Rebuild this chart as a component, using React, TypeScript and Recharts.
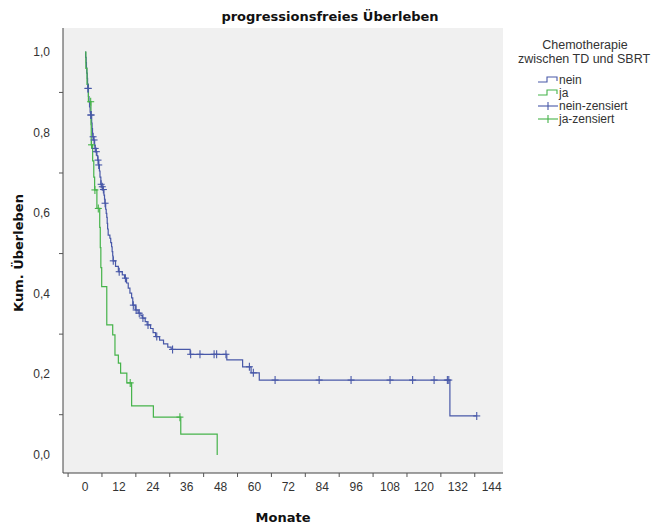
import React from "react";
import { ComposedChart, Line, Scatter, XAxis, YAxis, CartesianGrid } from "recharts";

const MONTH_TICKS = [0, 12, 24, 36, 48, 60, 72, 84, 96, 108, 120, 132, 144];
const SURV_TICKS = [0, 0.2, 0.4, 0.6, 0.8, 1.0];

// Kaplan-Meier steps [Monate, Überleben]
const NEIN_STEPS: [number, number][] = [
  [0, 1], [0.2, 0.987], [0.4, 0.974], [0.5, 0.961], [0.6, 0.948], [0.8, 0.935], [0.9, 0.922], [1.0, 0.91],
  [1.2, 0.89], [1.4, 0.877], [1.6, 0.864], [1.8, 0.851], [1.95, 0.844],
  [2.35, 0.824], [2.5, 0.81], [2.65, 0.797], [2.75, 0.79],
  [3.0, 0.782], [3.4, 0.768], [3.55, 0.761], [3.8, 0.753], [4.2, 0.743], [4.5, 0.732], [4.8, 0.72],
  [5.1, 0.705], [5.3, 0.69], [5.6, 0.672], [5.9, 0.666], [6.3, 0.659], [6.7, 0.645], [6.9, 0.635], [7.05, 0.625],
  [7.3, 0.61], [7.5, 0.6], [7.7, 0.59], [7.85, 0.575], [8.0, 0.561], [8.2, 0.546], [8.8, 0.538], [9.1, 0.527],
  [9.4, 0.517], [9.6, 0.505], [9.8, 0.494], [9.95, 0.482],
  [10.8, 0.468], [11.8, 0.455], [13.2, 0.447], [14.0, 0.439], [14.7, 0.427], [15.3, 0.414], [15.9, 0.402],
  [16.5, 0.39], [16.9, 0.372], [17.8, 0.36], [18.8, 0.352], [19.8, 0.346], [20.3, 0.34], [21.3, 0.331],
  [22.0, 0.323], [23.2, 0.314], [24.1, 0.304], [25.0, 0.294], [26.4, 0.285], [27.8, 0.276], [29.3, 0.268],
  [30.5, 0.262], [37.2, 0.25], [50.2, 0.236], [55.8, 0.219], [58.8, 0.204], [61.7, 0.186],
  [129.2, 0.097], [138.7, 0.097],
];
const NEIN_CENSORED = [
  1.06, 1.1, 2.0, 2.2, 2.85, 3.2, 3.6, 4.0, 4.6, 4.85, 5.7, 6.1, 6.5, 7.1, 10.0, 12.1, 14.3,
  17.1, 18.1, 19.2, 20.5, 22.3, 25.4, 31.0, 37.4, 40.7, 45.7, 46.6, 49.9, 58.2, 59.6,
  67.3, 82.9, 94.2, 108.0, 116.0, 123.6, 128.3, 128.8, 138.7,
];

const JA_STEPS: [number, number][] = [
  [0, 1], [0.3, 0.96], [0.7, 0.92], [1.2, 0.877], [2.1, 0.82], [2.2, 0.77], [2.7, 0.73], [3.1, 0.69],
  [3.4, 0.658], [4.2, 0.612], [5.2, 0.565], [5.4, 0.515], [5.6, 0.465], [5.9, 0.418], [7.7, 0.323],
  [9.8, 0.298], [10.6, 0.248], [11.8, 0.228], [12.6, 0.203], [14.8, 0.179], [16.5, 0.122],
  [24.2, 0.094], [33.9, 0.052], [46.8, 0],
];
const JA_CENSORED = [2.0, 2.3, 3.5, 4.7, 16.0, 33.6];

const LEGEND_TITLE = ["Chemotherapie", "zwischen TD und SBRT"];
const LEGEND_ROWS = ["nein", "ja", "nein-zensiert", "ja-zensiert"];

const BLUE = "#4858a8";
const GREEN = "#45b34a";
const FONT = "'Liberation Sans', Arial, sans-serif";
const BOLD_FONT = "'DejaVu Sans', Verdana, sans-serif";

const toRows = (steps: [number, number][]) => steps.map(([t, s]) => ({ t, s }));

// censor marks sit on the curve: take the step value at that time
const onCurve = (steps: [number, number][], times: number[]) =>
  times.map((t) => {
    let s = steps[0][1];
    for (const [st, sv] of steps) if (st <= t) s = sv;
    return { t, s };
  });

const Plus = (props: any) => {
  const { cx, cy, fill } = props;
  if (cx == null || cy == null) return null;
  return (
    <g stroke={fill} strokeWidth={1.1}>
      <line x1={cx} y1={cy - 4} x2={cx} y2={cy + 4} />
      <line x1={cx - 3.5} y1={cy} x2={cx + 3.5} y2={cy} />
    </g>
  );
};

// SPSS puts the tick marks halfway between the labels
const MonthTick = (props: any) => {
  const { x, y, payload } = props;
  const half = 16.95;
  return (
    <g>
      <line x1={x - half} y1={y} x2={x - half} y2={y + 4} stroke="#555" />
      <text x={x} y={y + 18} textAnchor="middle" fontSize={12} fontFamily={FONT} fill="#333">
        {payload.value}
      </text>
    </g>
  );
};

const SurvTick = (props: any) => {
  const { x, y, payload } = props;
  const half = 40.3;
  return (
    <g>
      {payload.value < 1 && <line x1={x - 4} y1={y - half} x2={x} y2={y - half} stroke="#555" />}
      <text x={x - 13} y={y + 4} textAnchor="end" fontSize={12} fontFamily={FONT} fill="#333">
        {payload.value.toFixed(1).replace(".", ",")}
      </text>
    </g>
  );
};

const Legend = () => {
  const colors = [BLUE, GREEN, BLUE, GREEN];
  const centers = [50, 63, 76, 89];
  return (
    <svg width={160} height={110} style={{ position: "absolute", left: 500, top: 30 }}>
      <text x={85} y={19} textAnchor="middle" fontSize={12.5} fontFamily={FONT} fill="#333">
        {LEGEND_TITLE[0]}
      </text>
      <text x={84} y={33} textAnchor="middle" fontSize={12.5} fontFamily={FONT} fill="#333">
        {LEGEND_TITLE[1]}
      </text>
      {LEGEND_ROWS.map((label, i) => {
        const c = centers[i];
        const color = colors[i];
        return (
          <g key={label}>
            {i >= 2 ? (
              <g stroke={color} strokeWidth={1.1}>
                <line x1={38} y1={c} x2={58} y2={c} />
                <line x1={48} y1={c - 4} x2={48} y2={c + 4} />
              </g>
            ) : (
              <path d={`M38,${c + 2} H47 V${c - 3} H57 V${c + 1}`} fill="none" stroke={color} strokeWidth={1.1} />
            )}
            <text x={59} y={c + 4} fontSize={12} fontFamily={FONT} fill="#333">
              {label}
            </text>
          </g>
        );
      })}
    </svg>
  );
};

export default function App() {
  const nein = toRows(NEIN_STEPS);
  const ja = toRows(JA_STEPS);
  const neinCens = onCurve(NEIN_STEPS, NEIN_CENSORED);
  const jaCens = onCurve(JA_STEPS, JA_CENSORED);

  return (
    <div style={{ position: "absolute", left: 0, top: 0, width: 660, height: 525, background: "#fff" }}>
      <ComposedChart width={660} height={525} margin={{ top: 28, right: 157, left: 13, bottom: 22 }}>
        <CartesianGrid fill="#f0f0f0" horizontal={false} vertical={false} />
        <XAxis
          dataKey="t"
          type="number"
          domain={[-7.8, 148]}
          allowDataOverflow
          ticks={MONTH_TICKS}
          interval={0}
          tick={<MonthTick />}
          tickLine={false}
          tickSize={0}
          tickMargin={0}
          height={30}
          axisLine={{ stroke: "#444" }}
        />
        <XAxis xAxisId="top" orientation="top" height={0} tick={false} tickLine={false} axisLine={{ stroke: "#777" }} />
        <YAxis
          type="number"
          domain={[-0.0447, 1.06]}
          allowDataOverflow
          ticks={SURV_TICKS}
          interval={0}
          tick={<SurvTick />}
          tickLine={false}
          tickSize={0}
          tickMargin={0}
          width={50}
          axisLine={{ stroke: "#444" }}
        />
        <YAxis yAxisId="right" orientation="right" width={0} tick={false} tickLine={false} axisLine={{ stroke: "#777" }} />
        <Line data={nein} dataKey="s" type="stepAfter" stroke={BLUE} strokeWidth={1.2} dot={false} isAnimationActive={false} />
        <Line data={ja} dataKey="s" type="stepAfter" stroke={GREEN} strokeWidth={1.2} dot={false} isAnimationActive={false} />
        <Scatter data={neinCens} dataKey="s" fill={BLUE} shape={<Plus />} isAnimationActive={false} />
        <Scatter data={jaCens} dataKey="s" fill={GREEN} shape={<Plus />} isAnimationActive={false} />
        <text x={330} y={21} textAnchor="middle" fontSize={13} fontWeight="bold" fontFamily={BOLD_FONT} fill="#111">
          progressionsfreies Überleben
        </text>
        <text x={283} y={522} textAnchor="middle" fontSize={13} fontWeight="bold" fontFamily={BOLD_FONT} fill="#111">
          Monate
        </text>
        <text
          x={23}
          y={253}
          textAnchor="middle"
          fontSize={13}
          fontWeight="bold"
          fontFamily={BOLD_FONT}
          fill="#111"
          transform="rotate(-90, 23, 253)"
        >
          Kum. Überleben
        </text>
      </ComposedChart>
      <Legend />
    </div>
  );
}
